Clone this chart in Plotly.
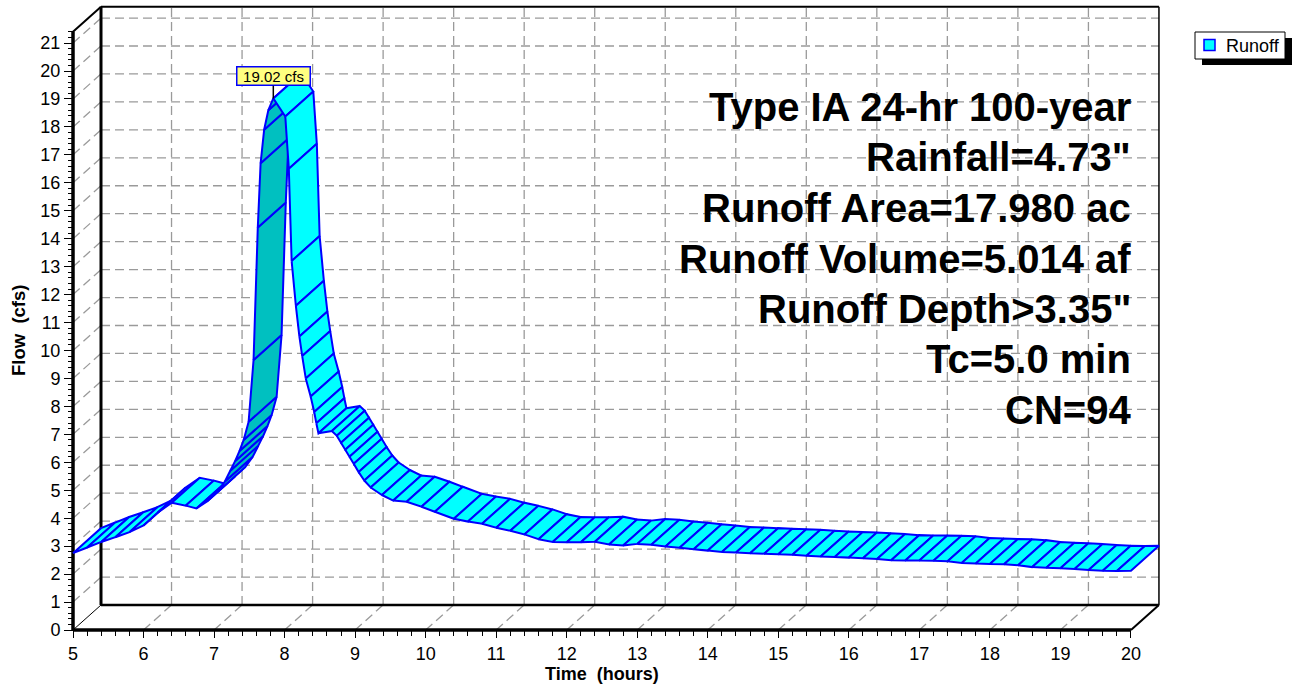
import numpy as np
import plotly.graph_objects as go

# ---------------- data ----------------
time_hr = [
    5.0, 5.2, 5.4, 5.6, 5.8, 6.0, 6.2, 6.4, 6.6, 6.75, 6.9, 7.05, 7.15, 7.23,
    7.30, 7.36, 7.42, 7.49, 7.56, 7.62, 7.66, 7.71, 7.77, 7.84,
    8.01, 8.06, 8.10, 8.16, 8.21, 8.25, 8.30, 8.37, 8.42, 8.45, 8.48,
    8.67, 8.74, 8.80, 8.86, 8.92, 8.98, 9.05, 9.13, 9.22, 9.38, 9.54, 9.73,
    9.94, 10.13, 10.4, 10.6, 10.8, 11.0, 11.2, 11.4, 11.6, 11.8, 12.0, 12.2,
    12.4, 12.6, 12.8, 13.0, 13.2, 13.4, 13.6, 13.8, 14.0, 14.2, 14.4, 14.6,
    14.8, 15.0, 15.2, 15.4, 15.6, 15.8, 16.0, 16.2, 16.4, 16.6, 16.8, 17.0,
    17.2, 17.4, 17.6, 17.8, 18.0, 18.2, 18.4, 18.6, 18.8, 19.0, 19.2, 19.4,
    19.6, 19.8, 20.0,
]
flow_cfs = [
    2.75, 2.95, 3.15, 3.32, 3.50, 3.74, 4.20, 4.55, 4.45, 4.35, 4.60, 4.95, 5.30, 5.70,
    6.05, 6.40, 6.80, 7.45, 9.66, 14.4, 16.7, 17.9, 18.6, 19.02,
    18.37, 16.5, 13.2, 11.6, 10.5, 9.8, 9.0, 8.35, 7.8, 7.4, 7.04,
    7.12, 6.95, 6.70, 6.45, 6.20, 5.95, 5.65, 5.35, 5.10, 4.83, 4.63, 4.59,
    4.41, 4.23, 3.98, 3.88, 3.80, 3.66, 3.55, 3.42, 3.25, 3.15, 3.14, 3.14,
    3.16, 3.06, 3.02, 3.08, 3.05, 2.99, 2.94, 2.89, 2.84, 2.79, 2.77, 2.75,
    2.73, 2.71, 2.69, 2.66, 2.63, 2.61, 2.59, 2.57, 2.54, 2.50, 2.49, 2.49,
    2.48, 2.46, 2.40, 2.38, 2.36, 2.35, 2.32, 2.25, 2.23, 2.21, 2.18, 2.15,
    2.12, 2.11, 2.12,
]
x_ticks = list(range(5, 21))
y_ticks = list(range(0, 22))
info_lines = [
    "Type IA 24-hr 100-year",
    'Rainfall=4.73"',
    "Runoff Area=17.980 ac",
    "Runoff Volume=5.014 af",
    'Runoff Depth>3.35"',
    "Tc=5.0 min",
    "CN=94",
]
series_name = "Runoff"

# ---------------- geometry ----------------
FONT = "Arial, 'Liberation Sans', sans-serif"
W, H = 1294, 686
PL, PR, PT, PB = 63, 1170, 2, 640          # plot area in pixels
X0_PX, XS = 73, 70.53                       # pixel of t=5, px per hour
Y0_PX, YS = 630, 27.95                      # pixel of q=0, px per cfs
DEPTH_PX = (28, 25)                          # 3-D depth offset (right, up)
DX, DY = DEPTH_PX[0] / XS, DEPTH_PX[1] / YS
X_MIN, X_MAX = 5.0, 20.0
Y_TOP = 21.4

x_range = [X_MIN - (X0_PX - PL) / XS, X_MIN + (PR - X0_PX) / XS]
y_range = [-(PB - Y0_PX) / YS, (Y0_PX - PT) / YS]


def px_x(px):
    return (px - PL) / (PR - PL)


def px_y(py):
    return (PB - py) / (PB - PT)


CYAN = "#00FFFF"
TEAL = "#00C0C0"
BLUE = "#0000FF"
GRID = "#9a9a9a"

fig = go.Figure()

# ribbon: one quad per segment, painted left to right
t = np.array(time_hr)
q = np.array(flow_cfs)
for i in range(len(t) - 1):
    dt, dq = t[i + 1] - t[i], q[i + 1] - q[i]
    underside = (-dt * XS * DEPTH_PX[1] + dq * YS * DEPTH_PX[0]) > 0
    xs = [t[i], t[i + 1], t[i + 1] + DX, t[i] + DX, t[i]]
    ys = [q[i], q[i + 1], q[i + 1] + DY, q[i] + DY, q[i]]
    fig.add_trace(go.Scatter(
        x=xs, y=ys, mode="lines", fill="toself",
        fillcolor=TEAL if underside else CYAN,
        line=dict(color=BLUE, width=2),
        showlegend=False, hoverinfo="skip",
    ))

shapes = []
dash = dict(color=GRID, width=1.3, dash="9px,5px")

# back wall horizontal grid + left wall diagonals
for yv in y_ticks[1:]:
    shapes.append(dict(type="line", xref="x", yref="y", layer="below",
                       x0=X_MIN + DX, x1=X_MAX + DX, y0=yv + DY, y1=yv + DY, line=dash))
    shapes.append(dict(type="line", xref="x", yref="y", layer="below",
                       x0=X_MIN, x1=X_MIN + DX, y0=yv, y1=yv + DY, line=dash))
# back wall vertical grid + floor diagonals
for xv in x_ticks[1:-1]:
    shapes.append(dict(type="line", xref="x", yref="y", layer="below",
                       x0=xv + DX, x1=xv + DX, y0=DY, y1=Y_TOP + DY, line=dash))
    shapes.append(dict(type="line", xref="x", yref="y", layer="below",
                       x0=xv, x1=xv + DX, y0=0, y1=DY, line=dash))


def solid(x0, y0, x1, y1, w):
    shapes.append(dict(type="line", xref="x", yref="y", layer="below",
                       x0=x0, y0=y0, x1=x1, y1=y1,
                       line=dict(color="black", width=w)))


# back wall frame
solid(X_MIN + DX, DY, X_MIN + DX, Y_TOP + DY, 3)
solid(X_MIN + DX, DY, X_MAX + DX, DY, 2.5)
solid(X_MIN + DX, Y_TOP + DY, X_MAX + DX, Y_TOP + DY, 2)
solid(X_MAX + DX, DY, X_MAX + DX, Y_TOP + DY, 1.5)
# connecting edges
solid(X_MIN, Y_TOP, X_MIN + DX, Y_TOP + DY, 2)
solid(X_MIN, 0, X_MIN + DX, DY, 1)
solid(X_MAX, 0, X_MAX + DX, DY, 2)
# front axes
solid(X_MIN, 0, X_MIN, Y_TOP, 3.5)
solid(X_MIN, 0, X_MAX, 0, 3.5)

# legend box with drop shadow
LG = (1195, 32, 1285, 59)
shapes.append(dict(type="rect", xref="paper", yref="paper",
                   x0=px_x(LG[0] + 7), x1=px_x(LG[2] + 7), y0=px_y(LG[1] + 6), y1=px_y(LG[3] + 6),
                   fillcolor="black", line=dict(width=0)))
shapes.append(dict(type="rect", xref="paper", yref="paper",
                   x0=px_x(LG[0]), x1=px_x(LG[2]), y0=px_y(LG[1]), y1=px_y(LG[3]),
                   fillcolor="white", line=dict(color="black", width=1)))
shapes.append(dict(type="rect", xref="paper", yref="paper",
                   x0=px_x(1204), x1=px_x(1215), y0=px_y(39.5), y1=px_y(50.5),
                   fillcolor=CYAN, line=dict(color=BLUE, width=1.5)))

annotations = [
    dict(xref="paper", yref="paper", x=px_x(1224), y=px_y(45.5), text=series_name,
         showarrow=False, xanchor="left", yanchor="middle",
         font=dict(family=FONT, size=18, color="black")),
    dict(xref="paper", yref="paper", x=px_x((X0_PX + X0_PX + (X_MAX - X_MIN) * XS) / 2), y=px_y(674),
         text="<b>Time  (hours)</b>", showarrow=False, xanchor="center", yanchor="middle",
         font=dict(family=FONT, size=18, color="black")),
    dict(xref="paper", yref="paper", x=px_x(18), y=px_y(331),
         text="<b>Flow  (cfs)</b>", showarrow=False, textangle=-90,
         xanchor="center", yanchor="middle",
         font=dict(family=FONT, size=18.5, color="black")),
]

# peak flow label
ipk = int(np.argmax(q))
annotations.append(dict(
    xref="x", yref="y", x=t[ipk], y=q[ipk], text=f"{q[ipk]:.2f} cfs",
    showarrow=True, arrowhead=0, arrowwidth=1.5, arrowcolor="black",
    ax=0, ay=-22, width=70, height=15, align="center",
    bgcolor="#FFFF80", bordercolor=BLUE, borderwidth=1.5, borderpad=1,
    font=dict(family=FONT, size=15, color="black"),
))

# summary text block
for k, line in enumerate(info_lines):
    annotations.append(dict(
        xref="paper", yref="paper", x=px_x(1133), y=px_y(107 + 50.5 * k),
        text=f"<b>{line}</b>", showarrow=False, xanchor="right", yanchor="middle",
        font=dict(family=FONT, size=40, color="black"),
    ))

x_minor = [round(v, 1) for v in np.arange(X_MIN, X_MAX + 0.01, 0.2) if abs(v - round(v)) > 1e-6]
y_minor = [round(v, 1) for v in np.arange(0, Y_TOP + 0.01, 0.2) if abs(v - round(v)) > 1e-6]

fig.update_layout(
    width=W, height=H, autosize=False,
    margin=dict(l=PL, r=W - PR, t=PT, b=H - PB, pad=0),
    paper_bgcolor="white", plot_bgcolor="white",
    showlegend=False,
    shapes=shapes, annotations=annotations,
    font=dict(family=FONT, size=18, color="black"),
    xaxis=dict(
        range=x_range, anchor="free", position=px_y(Y0_PX),
        tickmode="array", tickvals=x_ticks, ticktext=[str(v) for v in x_ticks],
        ticks="outside", ticklen=7, tickwidth=1.2, tickcolor="black",
        minor=dict(tickmode="array", tickvals=x_minor, ticks="outside", ticklen=5,
                   tickwidth=1.2, tickcolor="black", showgrid=False),
        showgrid=False, zeroline=False, showline=False,
        tickfont=dict(family=FONT, size=18, color="black"),
    ),
    yaxis=dict(
        range=y_range, anchor="free", position=px_x(X0_PX),
        tickmode="array", tickvals=y_ticks, ticktext=[str(v) for v in y_ticks],
        ticks="outside", ticklen=9, tickwidth=1.2, tickcolor="black",
        minor=dict(tickmode="array", tickvals=y_minor, ticks="outside", ticklen=5,
                   tickwidth=1.2, tickcolor="black", showgrid=False),
        showgrid=False, zeroline=False, showline=False,
        tickfont=dict(family=FONT, size=18, color="black"),
    ),
)

fig.write_html("out.html")
